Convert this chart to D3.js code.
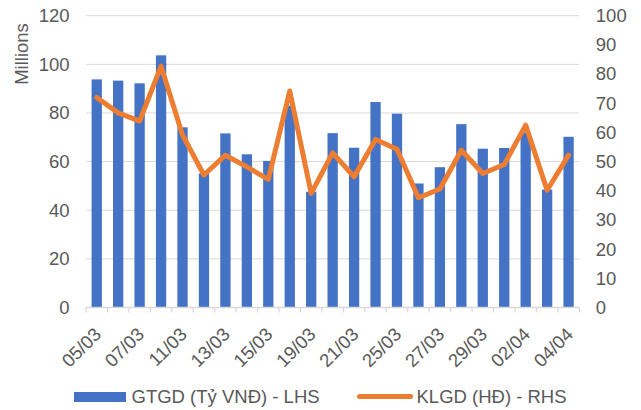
<!DOCTYPE html>
<html>
<head>
<meta charset="utf-8">
<script src="https://cdn.jsdelivr.net/npm/d3@7"></script>
<style>
body { margin: 0; background: #fff; }
text { font-family: "Liberation Sans", Arial, sans-serif; fill: #595959; }
</style>
</head>
<body>
<svg id="chart" width="641" height="410"></svg>
<script>

var categories = ["05/03","06/03","07/03","08/03","11/03","12/03","13/03","14/03","15/03","18/03","19/03","20/03",
  "21/03","22/03","25/03","26/03","27/03","28/03","29/03","01/04","02/04","03/04","04/04"]

// GTGD (Ty VND) - LHS, millions
var gtgd = [93.8, 93.3, 92.2, 103.7, 74.1, 55.1, 71.6, 63.0, 60.3, 83.0, 47.6, 71.7,
  65.7, 84.5, 79.7, 51.0, 57.7, 75.4, 65.3, 65.6, 72.0, 48.5, 70.2]

// KLGD (HD) - RHS
var klgd = [72.0, 66.7, 63.9, 82.7, 59.1, 45.4, 52.2, 48.2, 43.9, 74.2, 39.1, 53.0,
  44.8, 57.6, 54.2, 37.6, 40.6, 53.9, 45.9, 49.0, 62.5, 40.2, 52.2]

var leftTicks = [0, 20, 40, 60, 80, 100, 120]
var rightTicks = [0, 10, 20, 30, 40, 50, 60, 70, 80, 90, 100]

var margins = {
  top: 15.7,
  bottom: 102.5,
  left: 86,
  right: 61.7
}

var W = 641, H = 410
var fontSize = 18.5

var svg = d3.select('#chart')

var x = d3.scaleBand()
  .domain(categories)
  .range([margins.left, W - margins.right])
  .paddingInner(0.52)
  .paddingOuter(0.26)

var yL = d3.scaleLinear().domain([0, 120]).range([H - margins.bottom, margins.top])
var yR = d3.scaleLinear().domain([0, 100]).range([H - margins.bottom, margins.top])

//gridlines
svg.append('g')
  .selectAll('line')
  .data(leftTicks.slice(1))
  .enter()
  .append('line')
  .attr('x1', margins.left)
  .attr('x2', W - margins.right)
  .attr('y1', function(d){ return yL(d) })
  .attr('y2', function(d){ return yL(d) })
  .style('stroke', '#d9d9d9')
  .style('stroke-width', 1)

//left axis
var leftAxis = d3.axisLeft(yL).tickValues(leftTicks).tickSize(0).tickPadding(16.5)
var gl = svg.append('g')
  .attr('transform', 'translate(' + margins.left + ',0)')
  .call(leftAxis)
gl.select('.domain').remove()
gl.selectAll('text').style('font-size', fontSize + 'px').style('font-family', null)

//right axis
var rightAxis = d3.axisRight(yR).tickValues(rightTicks).tickSize(0).tickPadding(16.5)
var gr = svg.append('g')
  .attr('transform', 'translate(' + (W - margins.right) + ',0)')
  .call(rightAxis)
gr.select('.domain').remove()
gr.selectAll('text').style('font-size', fontSize + 'px').style('font-family', null)

//bars
svg.append('g')
  .selectAll('rect')
  .data(gtgd)
  .enter()
  .append('rect')
  .attr('x', function(d, i){ return x(categories[i]) })
  .attr('y', function(d){ return yL(d) })
  .attr('width', x.bandwidth())
  .attr('height', function(d){ return yL(0) - yL(d) })
  .style('fill', '#4472c4')

//x axis baseline and ticks
var base = yL(0)
var xg = svg.append('g')
xg.append('line')
  .attr('x1', margins.left)
  .attr('x2', W - margins.right)
  .attr('y1', base)
  .attr('y2', base)
  .style('stroke', '#d9d9d9')
  .style('stroke-width', 1.3)

var edges = categories.map(function(c){ return x(c) - x.step() * x.paddingInner() / 2 })
edges.push(W - margins.right)
xg.selectAll('.tk')
  .data(edges)
  .enter()
  .append('line')
  .attr('class', 'tk')
  .attr('x1', function(d){ return d })
  .attr('x2', function(d){ return d })
  .attr('y1', base)
  .attr('y2', base + 5)
  .style('stroke', '#d9d9d9')
  .style('stroke-width', 1.3)

//x labels, every other category
xg.selectAll('.xl')
  .data(categories.filter(function(c, i){ return i % 2 == 0 }))
  .enter()
  .append('text')
  .attr('class', 'xl')
  .attr('transform', function(d){
    return 'translate(' + (x(d) + x.bandwidth() / 2 + 1) + ',' + (base + 23.5) + ') rotate(-45)'
  })
  .attr('dy', '0.35em')
  .attr('text-anchor', 'end')
  .style('font-size', fontSize + 'px')
  .text(function(d){ return d })

//line
var line = d3.line()
  .x(function(d, i){ return x(categories[i]) + x.bandwidth() / 2 })
  .y(function(d){ return yR(d) })

svg.append('path')
  .datum(klgd)
  .attr('d', line)
  .style('fill', 'none')
  .style('stroke', '#ed7d31')
  .style('stroke-width', 5)
  .style('stroke-linejoin', 'round')
  .style('stroke-linecap', 'round')

//y title
svg.append('text')
  .attr('transform', 'translate(21.5,54) rotate(-90)')
  .attr('text-anchor', 'middle')
  .attr('dy', '0.35em')
  .style('font-size', fontSize + 'px')
  .text('Millions')

//legend
var lg = svg.append('g')
lg.append('rect')
  .attr('x', 74)
  .attr('y', 392)
  .attr('width', 52)
  .attr('height', 10)
  .style('fill', '#4472c4')
lg.append('text')
  .attr('x', 131.5)
  .attr('y', 403)
  .style('font-size', fontSize + 'px')
  .text('GTGD (Tỷ VNĐ) - LHS')
lg.append('line')
  .attr('x1', 359.5)
  .attr('x2', 410.5)
  .attr('y1', 396.5)
  .attr('y2', 396.5)
  .style('stroke', '#ed7d31')
  .style('stroke-width', 5)
  .style('stroke-linecap', 'round')
lg.append('text')
  .attr('x', 416.5)
  .attr('y', 403)
  .style('font-size', fontSize + 'px')
  .text('KLGD (HĐ) - RHS')

</script>
</body>
</html>
